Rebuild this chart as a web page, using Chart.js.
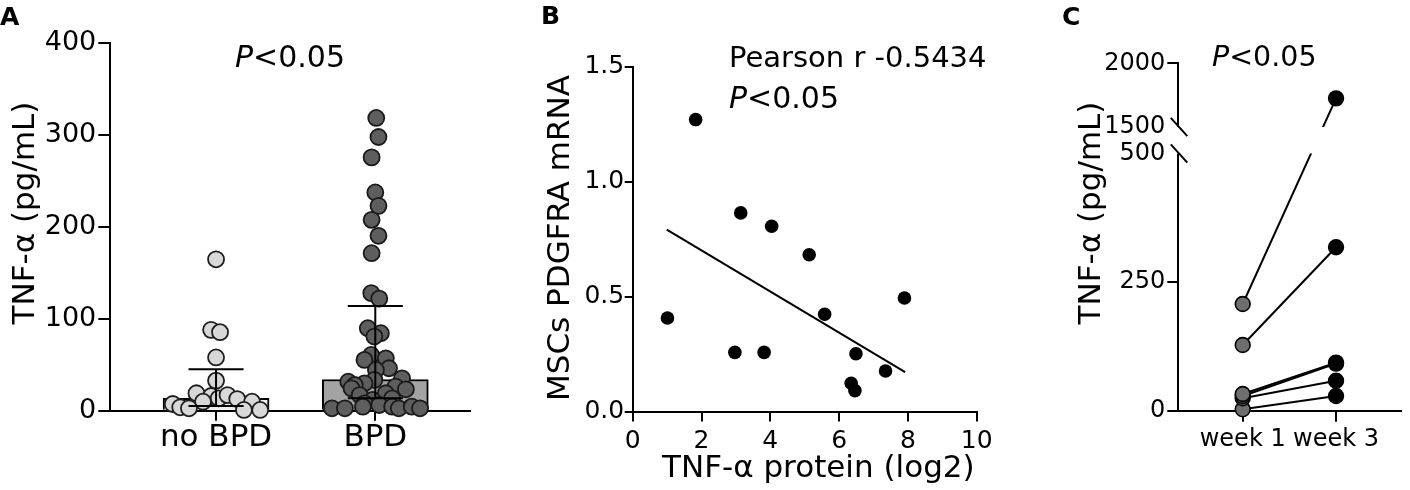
<!DOCTYPE html>
<html>
<head>
<meta charset="utf-8">
<script src="https://cdn.jsdelivr.net/npm/chart.js@4.4.1/dist/chart.umd.min.js"></script>
<style>
  body { margin: 0; width: 1410px; height: 490px; background: #fff; position: relative; overflow: hidden; font-family: "DejaVu Sans", sans-serif; }
  .panel { position: absolute; top: 0; height: 490px; }
  .txt { position: absolute; white-space: nowrap; color: #000; line-height: 1; z-index: 2; }
  .letter { font-weight: bold; font-size: 25px; }
  .ytitle { font-size: 31px; transform: translate(-50%, -50%) rotate(-90deg); }
  .xtitle { font-size: 31px; }
  .pval i { font-style: italic; }
</style>
</head>
<body>
<div class="panel" style="left:0;width:480px"><canvas id="chartA"></canvas></div>
<div class="panel" style="left:500px;width:510px"><canvas id="chartB"></canvas></div>
<div class="panel" style="left:1040px;width:370px"><canvas id="chartC"></canvas></div>

<div class="txt letter" style="left:0;top:4px">A</div>
<div class="txt letter" style="left:541px;top:3px">B</div>
<div class="txt letter" style="left:1062px;top:4px">C</div>

<div class="txt pval" style="left:235px;top:41.5px;font-size:30px"><i>P</i>&lt;0.05</div>
<div class="txt" style="left:729px;top:43px;font-size:29px">Pearson r -0.5434</div>
<div class="txt pval" style="left:729px;top:82.5px;font-size:30px"><i>P</i>&lt;0.05</div>
<div class="txt pval" style="left:1212px;top:43.4px;font-size:28.5px"><i>P</i>&lt;0.05</div>

<div class="txt ytitle" style="left:23.3px;top:213px">TNF-α (pg/mL)</div>
<div class="txt ytitle" style="left:558px;top:237.5px">MSCs PDGFRA mRNA</div>
<div class="txt xtitle" style="left:662px;top:451.4px">TNF-α protein (log2)</div>
<div class="txt ytitle" style="left:1089px;top:212.5px">TNF-α (pg/mL)</div>

<script>
// ---- panel A: TNF-a in tracheal aspirates, no BPD vs BPD ----
const groupsA = ["no BPD", "BPD"];
const medianA = [13.5, 34];
const q1A = [5, 13.5];
const q3A = [45, 114];
const yTicksA = [0, 100, 200, 300, 400];

const noBpdValues = [164.8, 88, 85.5, 58, 32.7, 19, 16, 9.8, 13.5, 17, 12.7, 9.8, 7.3, 3.7, 2.6, 0.8, 0.8];
const noBpdJitter = [0, -0.031, 0.025, 0, 0, -0.123, -0.031, -0.082, 0.017, 0.072, 0.133, 0.226, -0.272, -0.225, -0.17, 0.175, 0.277];

const bpdValues = [318.7, 298, 275.8, 237.6, 223, 207.8, 190.4, 171.5, 128, 122, 89.8, 84.4, 80.7, 60.7, 55.3, 57,
  46.2, 44.4, 35.3, 33.5, 31.6, 29.8, 28, 26.2, 24.3, 23.3, 19, 17, 13.4, 11.7, 8, 6.2, 4.4, 4.4, 2.6, 2.6, 2.6, 4.4, 2.6];
const bpdJitter = [0.006, 0.02, -0.023, 0, 0.02, -0.023, 0.02, -0.023, -0.025, 0.025, -0.047, 0.035, -0.006, -0.026, -0.068, 0.066,
  0.086, 0.004, 0.168, -0.006, -0.17, -0.068, -0.129, 0.127, -0.149, 0.192, 0.066, -0.098, 0.106, -0.017, -0.068, 0.025, -0.078, 0.106, -0.272, -0.191, 0.148, 0.229, 0.281];

// ---- panel B: correlation ----
const tnfLog2 = [1.01, 1.83, 3.14, 4.04, 5.13, 5.58, 2.97, 3.82, 6.49, 7.9, 7.35, 6.35, 6.46];
const pdgfraMrna = [0.407, 1.27, 0.864, 0.806, 0.682, 0.423, 0.257, 0.257, 0.251, 0.494, 0.176, 0.123, 0.091];
const fitX = [0.99, 7.92];
const fitY = [0.791, 0.171];
const xTicksB = [0, 2, 4, 6, 8, 10];
const yTicksB = [0, 0.5, 1, 1.5];

// ---- panel C: paired week 1 / week 3 ----
const weeksC = ["week 1", "week 3"];
const week1Vals = [207.8, 128.2, 33, 29, 24.7, 3.3];
const week3Vals = [1725, 318, 94, 92, 58.8, 29.1];
const yTicksC = [0, 250, 500, 1500, 2000];
const breakC = { from: 500, to: 1500, fromFrac: 0.7406, toFrac: 0.8168 };

Chart.defaults.font.family = "DejaVu Sans";
Chart.defaults.color = "#000";

// linear scale with a compressed band between two values (broken axis)
class BrokenLinearScale extends Chart.LinearScale {
  toDecimal(v) {
    const b = this.options.gap;
    if (v <= b.from) return ((v - this.min) / (b.from - this.min)) * b.fromFrac;
    if (v >= b.to) return b.toFrac + ((v - b.to) / (this.max - b.to)) * (1 - b.toFrac);
    return b.fromFrac + ((v - b.from) / (b.to - b.from)) * (b.toFrac - b.fromFrac);
  }
  getPixelForValue(v) {
    if (v === null || v === undefined || isNaN(v)) return NaN;
    return this.getPixelForDecimal(this.toDecimal(v));
  }
  getValueForPixel(p) {
    const b = this.options.gap;
    const d = this.getDecimalForPixel(p);
    if (d <= b.fromFrac) return this.min + (d / b.fromFrac) * (b.from - this.min);
    if (d >= b.toFrac) return b.to + ((d - b.toFrac) / (1 - b.toFrac)) * (this.max - b.to);
    return b.from + ((d - b.fromFrac) / (b.toFrac - b.fromFrac)) * (b.to - b.from);
  }
}
BrokenLinearScale.id = "brokenLinear";
BrokenLinearScale.defaults = Chart.LinearScale.defaults;
Chart.register(BrokenLinearScale);

function axisStyle(tickLength) {
  return {
    grid: { display: true, offset: false, drawOnChartArea: false, drawTicks: true, tickLength: tickLength, color: "#000", lineWidth: 2 },
    border: { display: true, color: "#000", width: 2 },
  };
}

function fixedTicks(values) {
  return (scale) => {
    scale.ticks = values.map((v) => ({ value: v }));
  };
}

const baseOptions = {
  responsive: true,
  maintainAspectRatio: false,
  animation: false,
  plugins: { legend: { display: false }, tooltip: { enabled: false } },
};

// ---------- A ----------
const capHalfWidth = 0.173;
const errorBarPlugin = {
  id: "errorBars",
  afterDatasetsDraw(chart) {
    const { ctx } = chart;
    const x = chart.scales.x;
    const y = chart.scales.y;
    ctx.save();
    ctx.strokeStyle = "#000";
    ctx.lineWidth = 2;
    medianA.forEach((m, i) => {
      const cx = x.getPixelForValue(i);
      const hw = x.getPixelForValue(i + capHalfWidth) - cx;
      const top = y.getPixelForValue(q3A[i]);
      const bot = y.getPixelForValue(q1A[i]);
      ctx.beginPath();
      ctx.moveTo(cx, top);
      ctx.lineTo(cx, bot);
      ctx.moveTo(cx - hw, top);
      ctx.lineTo(cx + hw, top);
      ctx.moveTo(cx - hw, bot);
      ctx.lineTo(cx + hw, bot);
      ctx.stroke();
    });
    ctx.restore();
  },
};

new Chart(document.getElementById("chartA"), {
  type: "scatter",
  data: {
    datasets: [
      {
        type: "bar",
        data: medianA.map((m, i) => ({ x: i, y: m })),
        backgroundColor: ["#f0f0f0", "#a3a3a3"],
        borderColor: "#000",
        borderWidth: 2,
        barThickness: 106,
        order: 3,
      },
      {
        data: noBpdValues.map((v, i) => ({ x: 0 + noBpdJitter[i], y: v })),
        pointRadius: 8,
        pointBackgroundColor: "#d8d8d8",
        pointBorderColor: "#1e1e1e",
        pointBorderWidth: 1.8,
        clip: false,
        order: 1,
      },
      {
        data: bpdValues.map((v, i) => ({ x: 1 + bpdJitter[i], y: v })),
        pointRadius: 8,
        pointBackgroundColor: "#5e5e5e",
        pointBorderColor: "#1a1a1a",
        pointBorderWidth: 1.8,
        clip: false,
        order: 2,
      },
    ],
  },
  options: {
    ...baseOptions,
    layout: { padding: { left: 0, top: 43.3, right: 2, bottom: 0 } },
    scales: {
      x: {
        type: "linear",
        min: -0.666,
        max: 1.596,
        offset: false,
        afterBuildTicks: fixedTicks([0, 1]),
        afterFit: (s) => { s.height = 79.3; },
        ticks: {
          autoSkip: false, maxRotation: 0, padding: 1.7,
          font: { size: 31, lineHeight: 1 },
          callback: (v) => groupsA[v],
        },
        ...axisStyle(10),
      },
      y: {
        min: 0,
        max: 400,
        afterBuildTicks: fixedTicks(yTicksA),
        afterFit: (s) => { s.width = 110; },
        ticks: { padding: 2, font: { size: 27, lineHeight: 1 }, callback: (v) => String(v) },
        ...axisStyle(11.7),
      },
    },
  },
  plugins: [errorBarPlugin],
});

// ---------- B ----------
new Chart(document.getElementById("chartB"), {
  type: "scatter",
  data: {
    datasets: [
      {
        data: tnfLog2.map((v, i) => ({ x: v, y: pdgfraMrna[i] })),
        pointRadius: 6.8,
        pointBackgroundColor: "#000",
        pointBorderColor: "#000",
        pointBorderWidth: 0,
        clip: false,
      },
      {
        data: fitX.map((v, i) => ({ x: v, y: fitY[i] })),
        showLine: true,
        borderColor: "#000",
        borderWidth: 2,
        pointRadius: 0,
        clip: false,
      },
    ],
  },
  options: {
    ...baseOptions,
    layout: { padding: { left: 0, top: 66.7, right: 33.3, bottom: 0 } },
    scales: {
      x: {
        type: "linear",
        min: 0,
        max: 10,
        afterBuildTicks: fixedTicks(xTicksB),
        afterFit: (s) => { s.height = 78.5; },
        ticks: { autoSkip: false, maxRotation: 0, padding: 7, font: { size: 25, lineHeight: 1 }, callback: (v) => String(v) },
        ...axisStyle(10),
      },
      y: {
        min: 0,
        max: 1.5,
        afterBuildTicks: fixedTicks(yTicksB),
        afterFit: (s) => { s.width = 132.7; },
        ticks: { padding: 0.5, font: { size: 25, lineHeight: 1 }, callback: (v) => v.toFixed(1) },
        ...axisStyle(8),
      },
    },
  },
});

// ---------- C ----------
const axisBreakPlugin = {
  id: "axisBreak",
  beforeDatasetsDraw(chart) {
    const { ctx, width, height } = chart;
    const y = chart.scales.y;
    const a = y.getPixelForValue(breakC.to);
    const b = y.getPixelForValue(breakC.from);
    ctx.save();
    ctx.beginPath();
    ctx.rect(0, 0, width, a);
    ctx.rect(0, b, width, height - b);
    ctx.clip();
  },
  afterDatasetsDraw(chart) {
    chart.ctx.restore();
  },
  afterDraw(chart) {
    const { ctx } = chart;
    const y = chart.scales.y;
    const ax = chart.chartArea.left;
    const a = y.getPixelForValue(breakC.to);
    const b = y.getPixelForValue(breakC.from);
    ctx.save();
    ctx.fillStyle = "#fff";
    ctx.fillRect(ax - 3, a, 6, b - a);
    ctx.strokeStyle = "#000";
    ctx.lineWidth = 2;
    [a, b].forEach((p) => {
      ctx.beginPath();
      ctx.moveTo(ax - 7.5, p - 9.2);
      ctx.lineTo(ax + 9, p + 9.2);
      ctx.stroke();
    });
    ctx.restore();
  },
};

new Chart(document.getElementById("chartC"), {
  type: "line",
  data: {
    datasets: week1Vals.map((w1, i) => ({
      data: [{ x: 0, y: w1 }, { x: 1, y: week3Vals[i] }],
      borderColor: "#000",
      borderWidth: 2,
      pointRadius: 7.4,
      pointBackgroundColor: ["#6e6e6e", "#000"],
      pointBorderColor: "#000",
      pointBorderWidth: 1.6,
      clip: false,
    })),
  },
  options: {
    ...baseOptions,
    layout: { padding: { left: 0, top: 63.3, right: 1, bottom: 0 } },
    scales: {
      x: {
        type: "linear",
        min: -0.69,
        max: 1.696,
        afterBuildTicks: fixedTicks([0, 1]),
        afterFit: (s) => { s.height = 79; },
        ticks: { autoSkip: false, maxRotation: 0, padding: 6, font: { size: 24, lineHeight: 1 }, callback: (v) => weeksC[v] },
        ...axisStyle(10.7),
      },
      y: {
        type: "brokenLinear",
        min: 0,
        max: 2000,
        gap: breakC,
        afterBuildTicks: fixedTicks(yTicksC),
        afterFit: (s) => { s.width = 138.3; },
        ticks: { padding: 2, font: { size: 24, lineHeight: 1 }, callback: (v) => String(v) },
        grid: {
          display: true, drawOnChartArea: false, drawTicks: true, tickLength: 11, lineWidth: 2, color: "#000",
          tickColor: (c) => (c.tick && (c.tick.value === breakC.from || c.tick.value === breakC.to) ? "rgba(0,0,0,0)" : "#000"),
        },
        border: { display: true, color: "#000", width: 2 },
      },
    },
  },
  plugins: [axisBreakPlugin],
});
</script>
</body>
</html>
